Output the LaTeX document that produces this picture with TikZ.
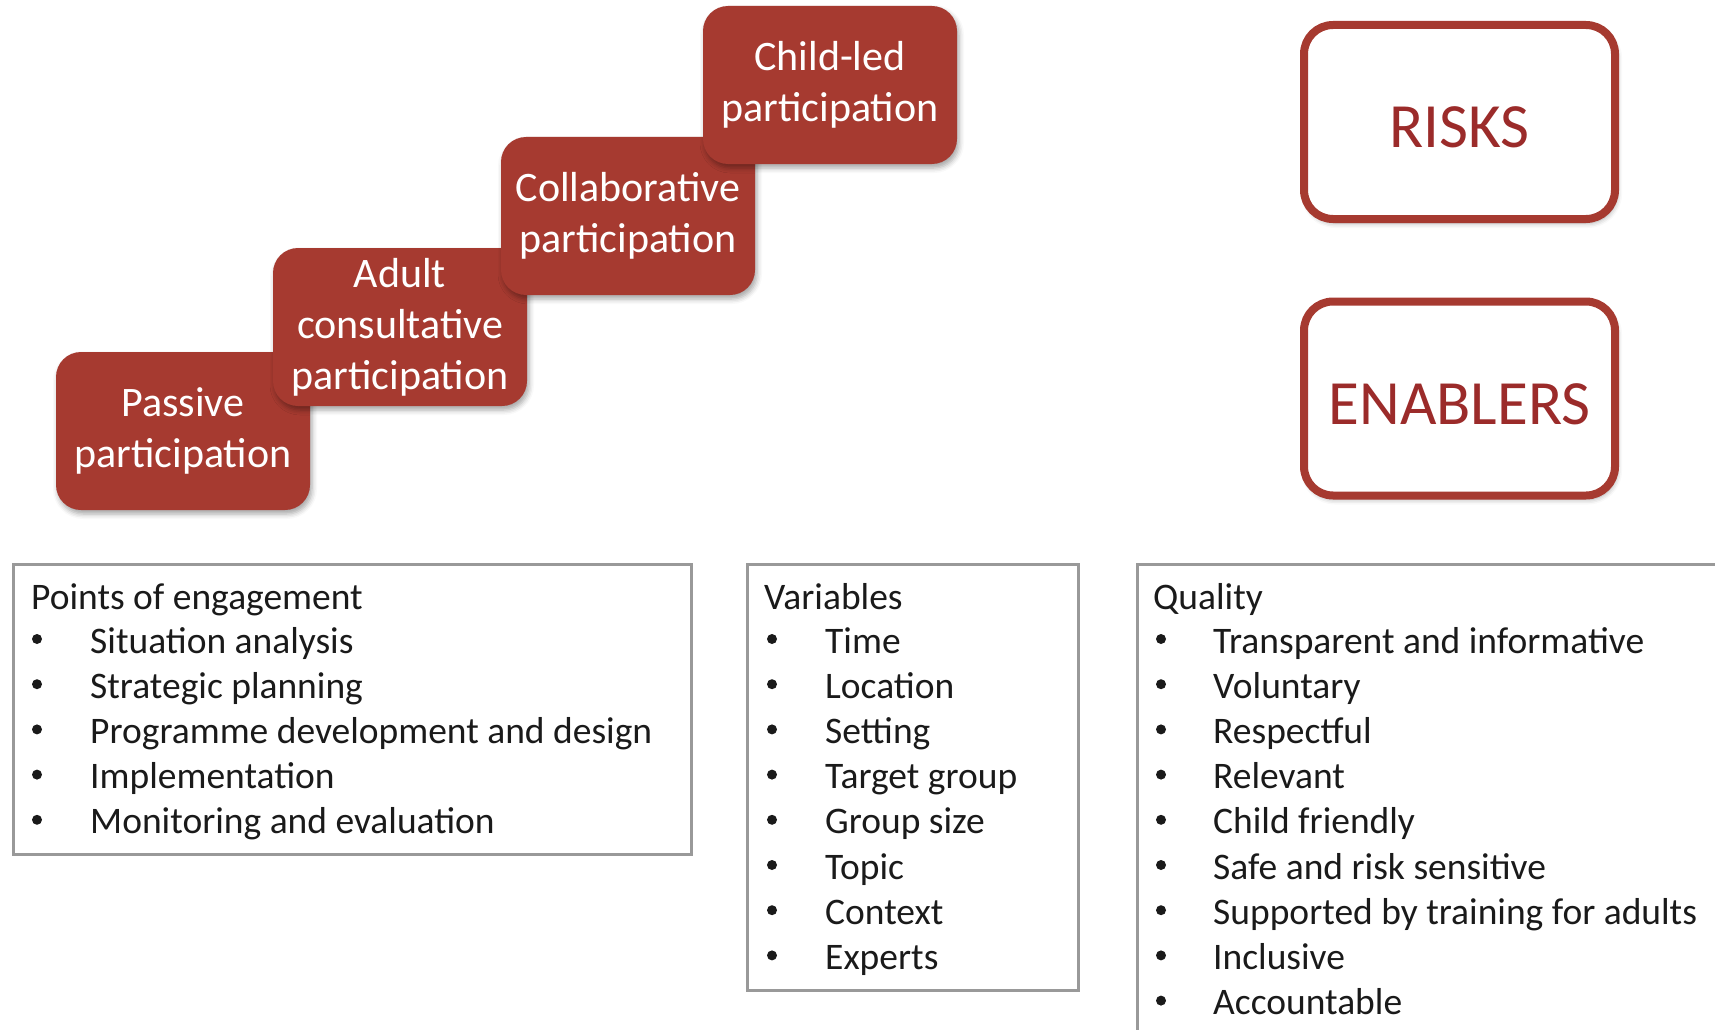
\documentclass[tikz,border=0pt]{standalone}
\usepackage{fontspec}
\setmainfont{Carlito}
\usetikzlibrary{shadows.blur}

\definecolor{stepred}{HTML}{A63A30}
\definecolor{labelred}{HTML}{9B2B2A}
\definecolor{framegrey}{HTML}{999999}
\definecolor{ink}{HTML}{1A1A1A}

\tikzset{
  softshadow/.style={blur shadow={shadow xshift=2pt, shadow yshift=-4pt,
      shadow blur radius=5pt, shadow opacity=35}},
  stepbox/.style={rounded corners=25pt, fill=stepred, text=white,
      minimum width=254pt, minimum height=158pt, inner sep=0pt,
      align=center, font=\fontsize{42}{51}\selectfont, softshadow},
  outcomebox/.style={draw=stepred, line width=8pt, fill=white,
      rounded corners=29pt, minimum width=311pt, minimum height=194pt,
      inner sep=0pt, text=labelred, font=\fontsize{63}{76}\selectfont,
      text height=51pt, text depth=0pt, softshadow},
  listframe/.style={draw=framegrey, line width=2.5pt, anchor=north west,
      inner sep=0pt},
  listline/.style={anchor=base west, inner sep=0pt, text=ink,
      font=\fontsize{37.5}{45}\selectfont},
  listdot/.style={circle, fill=ink, minimum size=10pt, inner sep=0pt},
}

\begin{document}
\begin{tikzpicture}[x=1pt, y=-1pt]
  \useasboundingbox (0,0) rectangle (1715,1030);

  % staircase of participation levels, each step laid over the previous one
  \node[stepbox] (passive) at (183,431) {Passive\\participation};
  \node[stepbox] (adult)   at (400,327) {Adult\\consultative\\participation};
  \node[stepbox] (collab)  at (628,216) {Collaborative\\participation};
  \node[stepbox] (childled) at (830,85) {Child-led\\participation};

  % outlined boxes on the right
  \node[outcomebox] (risks)    at (1459.5,122)   {RISKS};
  \node[outcomebox] (enablers) at (1459.5,398.5) {ENABLERS};

  % list frames
  \node[listframe, minimum width=678pt, minimum height=290pt] (points)    at (12,563) {};
  \node[listframe, minimum width=331pt, minimum height=426pt] (variables) at (746,563) {};
  \node[listframe, minimum width=700pt, minimum height=600pt] (quality)   at (1136,563) {};

  % Points of engagement
  \node[listline] (pointstitle) at (31,609) {Points of engagement};
  \foreach \txt [count=\i] in {Situation analysis, Strategic planning,
      Programme development and design, Implementation, Monitoring and evaluation} {
    \node[listdot] (pdot\i) at (37,{639+45.2*(\i-1)}) {};
    \node[listline] (pitem\i) at (90,{653+45.2*(\i-1)}) {\txt};
  }

  % Variables
  \node[listline] (variablestitle) at (764,609) {Variables};
  \foreach \txt [count=\i] in {Time, Location, Setting, Target group,
      Group size, Topic, Context, Experts} {
    \node[listdot] (vdot\i) at (772,{639+45.2*(\i-1)}) {};
    \node[listline] (vitem\i) at (825,{653+45.2*(\i-1)}) {\txt};
  }

  % Quality
  \node[listline] (qualitytitle) at (1153,609) {Quality};
  \foreach \txt [count=\i] in {Transparent and informative, Voluntary,
      Respectful, Relevant, Child friendly, Safe and risk sensitive,
      Supported by training for adults, Inclusive, Accountable} {
    \node[listdot] (qdot\i) at (1161,{639+45.2*(\i-1)}) {};
    \node[listline] (qitem\i) at (1213,{653+45.2*(\i-1)}) {\txt};
  }
\end{tikzpicture}
\end{document}
